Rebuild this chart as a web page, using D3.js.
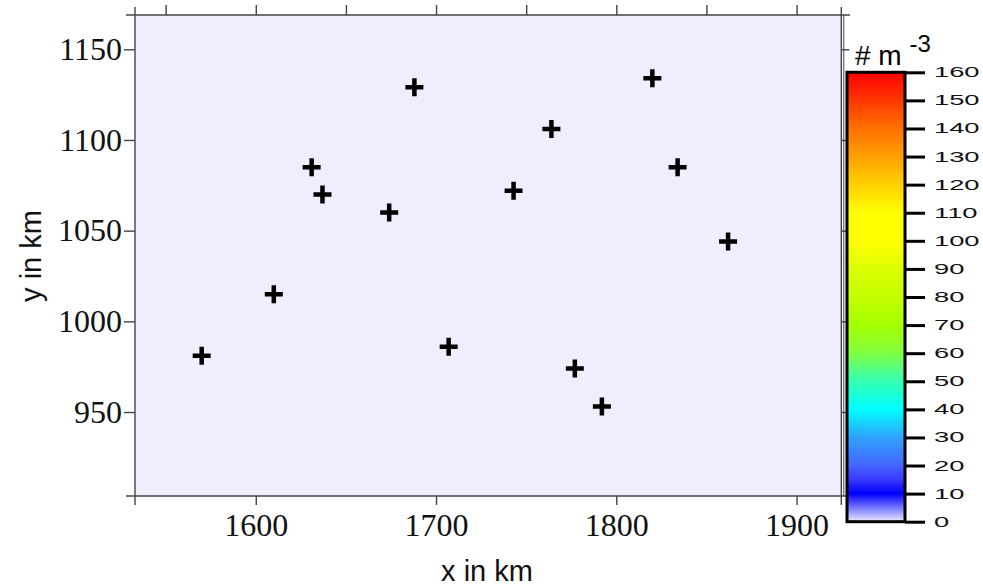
<!DOCTYPE html>
<html>
<head>
<meta charset="utf-8">
<script src="https://cdn.jsdelivr.net/npm/d3@7"></script>
<style>
  body { margin: 0; background: #fff; }
  svg { display: block; }
</style>
</head>
<body>
<script>
// station positions (km)
var stationX = [1570, 1610, 1631, 1637, 1674, 1688, 1707, 1743, 1764, 1777, 1792, 1820, 1834, 1862];
var stationY = [981, 1015, 1085, 1070, 1060, 1129, 986, 1072, 1106, 974, 953, 1134, 1085, 1044];

var xTicks = [1600, 1700, 1800, 1900];
var xMinorTicks = [1550, 1600, 1650, 1700, 1750, 1800, 1850, 1900];
var yTicks = [950, 1000, 1050, 1100, 1150];

// colour bar (# m^-3)
var cbValues = [0, 10, 15, 20, 30, 40, 50, 60, 70, 80, 90, 100, 110, 120, 130, 140, 150, 160];
var cbColors = ['#ececff', '#0000ff', '#3a3aff', '#4464ff', '#2fa2ff', '#00ffff', '#34ffb4', '#80ff40',
                '#a4ff00', '#c4ff00', '#dcff00', '#ffff00', '#ffff00', '#ffd000', '#ffa000', '#ff7000', '#ff3800', '#ff0000'];
var cbTicks = d3.range(0, 161, 10);

var w = 983, h = 587;

var x = d3.scaleLinear().domain([1533, 1925.2]).range([135, 842]);
var y = d3.scaleLinear().domain([903.7, 1168.9]).range([496, 15]);
var c = d3.scaleLinear().domain([0, 160]).range([521.7, 72.3]);

var svg = d3.select('body').append('svg')
  .attr('width', w)
  .attr('height', h);

// plot background
svg.append('rect')
  .attr('x', x.range()[0])
  .attr('y', y.range()[1])
  .attr('width', x.range()[1] - x.range()[0])
  .attr('height', y.range()[0] - y.range()[1])
  .attr('fill', '#eeeeff');

var axisColor = '#444';

// frame lines, extended a bit past the corners
var frame = svg.append('g').attr('stroke', axisColor).attr('stroke-width', 1.4);
frame.append('line').attr('x1', 126).attr('x2', 850).attr('y1', y.range()[1]).attr('y2', y.range()[1]);
frame.append('line').attr('x1', 126).attr('x2', 850).attr('y1', y.range()[0]).attr('y2', y.range()[0]);
frame.append('line').attr('x1', x.range()[0]).attr('x2', x.range()[0]).attr('y1', 7).attr('y2', 505);
frame.append('line').attr('x1', 841.3).attr('x2', 841.3).attr('y1', 7).attr('y2', 505);
frame.append('line').attr('x1', 843.8).attr('x2', 843.8).attr('y1', 15).attr('y2', 496).attr('stroke-width', 1);

function styleAxis(g) {
  g.select('.domain').remove();
  g.selectAll('.tick line').attr('stroke', axisColor).attr('stroke-width', 1.4);
  g.selectAll('text')
    .attr('font-family', '"Liberation Serif", "Times New Roman", serif')
    .attr('font-size', 32)
    .attr('fill', '#111');
}

svg.append('g')
  .attr('transform', 'translate(0,' + y.range()[0] + ')')
  .call(d3.axisBottom(x).tickValues(xTicks).tickFormat(d3.format('d')).tickSize(9).tickPadding(8))
  .call(styleAxis);

svg.append('g')
  .attr('transform', 'translate(0,' + y.range()[1] + ')')
  .call(d3.axisTop(x).tickValues(xMinorTicks).tickFormat('').tickSize(10))
  .call(styleAxis);

svg.append('g')
  .attr('transform', 'translate(' + x.range()[0] + ',0)')
  .call(d3.axisLeft(y).tickValues(yTicks).tickFormat(d3.format('d')).tickSize(11).tickPadding(2))
  .call(styleAxis);

svg.append('g')
  .attr('transform', 'translate(841.3,0)')
  .call(d3.axisRight(y).tickValues(yTicks).tickFormat('').tickSize(8))
  .call(styleAxis);

// station markers
var pts = stationX.map(function (d, i) { return [d, stationY[i]]; });
svg.append('g').selectAll('path')
  .data(pts)
  .enter()
  .append('path')
  .attr('transform', function (d) { return 'translate(' + x(d[0]) + ',' + y(d[1]) + ')'; })
  .attr('d', 'M-9,0H9M0,-9V9')
  .attr('stroke', '#000')
  .attr('stroke-width', 4.5)
  .attr('fill', 'none');

// axis titles
svg.append('text')
  .attr('x', 487).attr('y', 581)
  .attr('text-anchor', 'middle')
  .attr('font-family', '"Liberation Sans", Arial, sans-serif')
  .attr('font-size', 29)
  .attr('fill', '#111')
  .text('x in km');

svg.append('text')
  .attr('transform', 'translate(41,256) rotate(-90)')
  .attr('text-anchor', 'middle')
  .attr('font-family', '"Liberation Sans", Arial, sans-serif')
  .attr('font-size', 29)
  .attr('fill', '#111')
  .text('y in km');

// colour bar
var defs = svg.append('defs');
var grad = defs.append('linearGradient')
  .attr('id', 'cbgrad')
  .attr('gradientUnits', 'userSpaceOnUse')
  .attr('x1', 0).attr('x2', 0)
  .attr('y1', c(0)).attr('y2', c(160));
grad.selectAll('stop')
  .data(cbValues)
  .enter()
  .append('stop')
  .attr('offset', function (d) { return d / 160; })
  .attr('stop-color', function (d, i) { return cbColors[i]; });

var cbLeft = 847, cbRight = 905;
svg.append('rect')
  .attr('x', cbLeft)
  .attr('y', c(160))
  .attr('width', cbRight - cbLeft)
  .attr('height', c(0) - c(160))
  .attr('fill', 'url(#cbgrad)')
  .attr('stroke', '#000')
  .attr('stroke-width', 3);

var sx = 1.95;
var cbAxis = svg.append('g')
  .attr('transform', 'translate(' + cbRight + ',0)')
  .call(d3.axisRight(c).tickValues(cbTicks).tickFormat(d3.format('d')).tickSize(20).tickPadding(9));
cbAxis.select('.domain').remove();
cbAxis.selectAll('.tick line').attr('stroke', '#000').attr('stroke-width', 3);
cbAxis.selectAll('text')
  .attr('font-family', '"Liberation Sans", Arial, sans-serif')
  .attr('font-size', 14)
  .attr('fill', '#111')
  .attr('x', 29 / sx)
  .attr('transform', 'scale(' + sx + ',1)');

var unit = svg.append('text')
  .attr('x', 855).attr('y', 65)
  .attr('font-family', '"Liberation Sans", Arial, sans-serif')
  .attr('font-size', 28)
  .attr('fill', '#000');
unit.append('tspan').text('# m ');
unit.append('tspan').attr('font-size', 24).attr('dy', -13).text('-3');
</script>
</body>
</html>
